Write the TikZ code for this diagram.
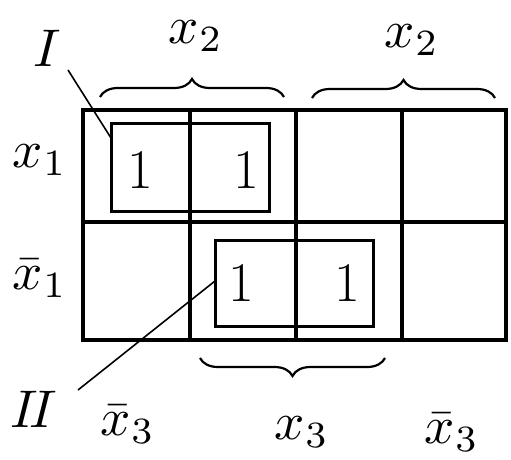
\documentclass[tikz,border=0pt]{standalone}
\usepackage{graphicx}
\usetikzlibrary{decorations.pathreplacing}
\newcommand{\bigmath}[1]{\scalebox{5.3}{$#1$}}
\begin{document}
\begin{tikzpicture}[x=1pt,y=-1pt,
  gridline/.style={line width=3.4pt},
  grp/.style={line width=3pt},
  lead/.style={line width=1.6pt},
  brc/.style={line width=2.2pt,decorate,decoration={brace,amplitude=18pt}},
  lbl/.style={inner sep=0pt},
  one/.style={inner sep=0pt,font=\fontsize{56}{60}\selectfont}]
\useasboundingbox (0,0) rectangle (511,460);
\fill[white] (0,0) rectangle (511,460);
% grid
\draw[gridline] (83,110) rectangle (506,340);
\draw[gridline] (83,222) -- (506,222);
\draw[gridline] (190,110) -- (190,340);
\draw[gridline] (296,110) -- (296,340);
\draw[gridline] (402,110) -- (402,340);
% group rectangles
\node[grp,draw,minimum width=158pt,minimum height=88pt,inner sep=0pt] (g1) at (190,167) {};
\node[grp,draw,minimum width=158pt,minimum height=86pt,inner sep=0pt] (g2) at (294,283) {};
% ones
\node[one] (o1) at (140,170) {1};
\node[one] (o2) at (246,170) {1};
\node[one] (o3) at (241,283) {1};
\node[one] (o4) at (347,283) {1};
% braces
\coordinate (b1a) at (100,97);
\coordinate (b1b) at (284,97);
\coordinate (b2a) at (312,98);
\coordinate (b2b) at (495,98);
\coordinate (b3a) at (200,358);
\coordinate (b3b) at (385,358);
\draw[brc] (b1a) -- (b1b);
\draw[brc] (b2a) -- (b2b);
\draw[brc] (b3b) -- (b3a);
% labels
\node[lbl] (x2a) at (196,36) {\bigmath{x_2}};
\node[lbl] (x2b) at (412,40) {\bigmath{x_2}};
\node[lbl] (x1) at (40,160) {\bigmath{x_1}};
\node[lbl] (nx1) at (40,278) {\bigmath{\bar{x}_1}};
\node[lbl] (nx3a) at (128,424) {\bigmath{\bar{x}_3}};
\node[lbl] (x3) at (302,432) {\bigmath{x_3}};
\node[lbl] (nx3b) at (452,432) {\bigmath{\bar{x}_3}};
\node[lbl] (L1) at (47,48) {\bigmath{I}};
\node[lbl] (L2) at (34,409) {\bigmath{I\!I}};
% leader lines
\coordinate (l1s) at (68,70);
\coordinate (l1e) at (111,138);
\draw[lead] (l1s) -- (l1e);
\coordinate (l2s) at (78,390);
\coordinate (l2e) at (215,281);
\draw[lead] (l2s) -- (l2e);
\end{tikzpicture}
\end{document}
